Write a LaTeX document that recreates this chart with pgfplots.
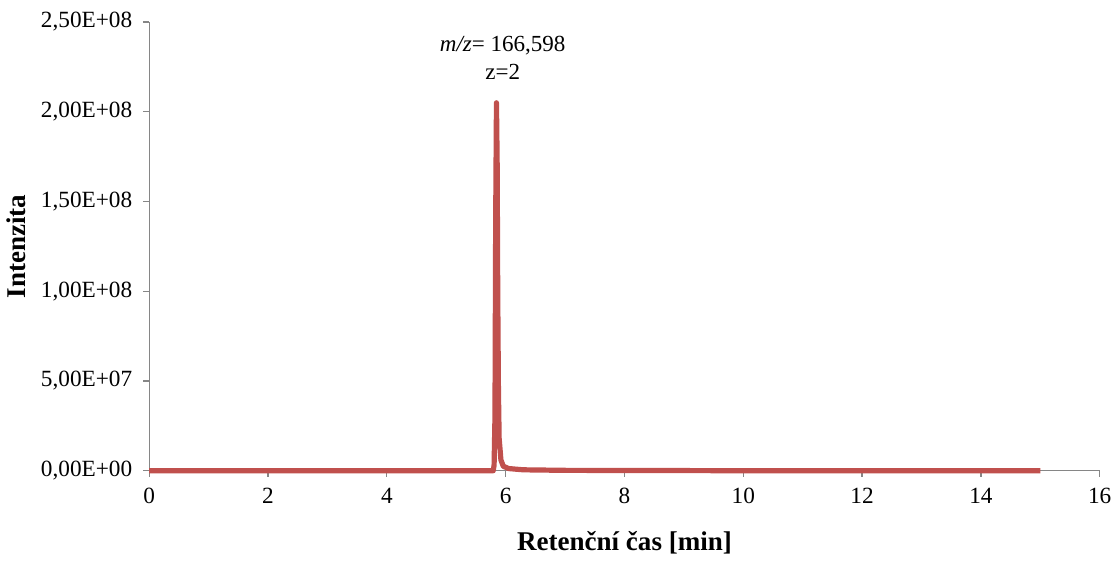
\documentclass[border=0pt]{standalone}
\usepackage{fontspec}
\setmainfont{Liberation Serif}
\usepackage{pgfplots}
\pgfplotsset{compat=1.18}
\definecolor{peakred}{RGB}{192,80,77}
\definecolor{axgray}{RGB}{134,134,134}

\begin{document}
\begin{tikzpicture}
\begin{axis}[
    scale only axis,
    width=474.5pt, height=224pt,
    xmin=0, xmax=16,
    ymin=0, ymax=2.5e8,
    axis x line*=bottom,
    axis y line*=left,
    axis line style={axgray, line width=0.6pt},
    tick style={axgray, line width=0.6pt},
    tick align=outside,
    major tick length=3pt,
    xtick={0,2,...,16},
    ytick={0,5e7,1e8,1.5e8,2e8,2.5e8},
    yticklabels={{0,00E+00},{5,00E+07},{1,00E+08},{1,50E+08},{2,00E+08},{2,50E+08}},
    scaled y ticks=false,
    /pgf/number format/assume math mode=true,
    ticklabel style={font=\fontsize{11.6}{13}\selectfont},
    xticklabel style={yshift=-2pt},
    yticklabel style={xshift=-2pt},
    xlabel={\textbf{Retenční čas [min]}},
    ylabel={\textbf{Intenzita}},
    label style={font=\fontsize{13.5}{15}\selectfont},
    x label style={at={(axis description cs:0.5,0)}, anchor=north, yshift=-27pt},
    y label style={at={(axis description cs:-0.14,0.5)}, anchor=center},
    clip=false,
]
\addplot[peakred, line width=2.6pt, line join=round] coordinates {
    (0,0) (2,0) (4,0) (5.79,0) (5.805,0.3e7) (5.82,3e7) (5.832,1.4e8)
    (5.845,2.05e8) (5.857,1.7e8) (5.866,1.0e8) (5.878,4.5e7) (5.89,1.8e7)
    (5.92,6e6) (5.96,2.5e6) (6.05,1.2e6) (6.3,5e5) (7,2e5) (10,0) (15,0)
};
\node[align=center, font=\fontsize{11.5}{14}\selectfont] at (axis cs:5.95,2.3e8)
    {\textit{m/z}= 166,598\\z=2};
\path (rel axis cs:0,1) ++(0,11pt);
\end{axis}
\end{tikzpicture}
\end{document}
